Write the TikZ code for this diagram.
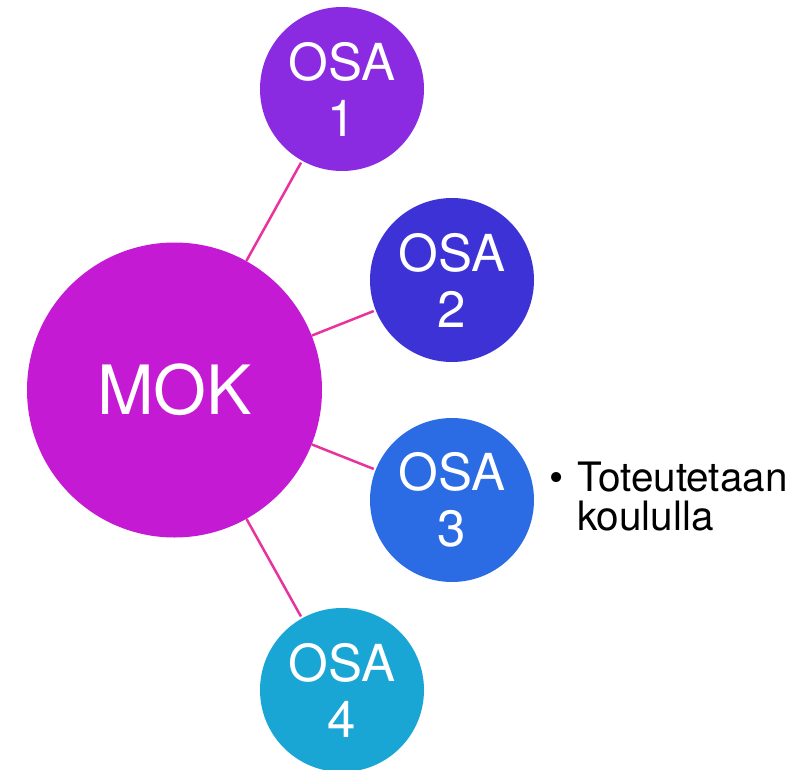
\documentclass[tikz,border=0pt]{standalone}
\usepackage{fontspec}
\setmainfont{TeX Gyre Heros}
\definecolor{cmok}{HTML}{C41AD4}
\definecolor{cosa1}{HTML}{8A2BE2}
\definecolor{cosa2}{HTML}{3D32D6}
\definecolor{cosa3}{HTML}{2B6CE4}
\definecolor{cosa4}{HTML}{19A6D5}
\definecolor{clink}{HTML}{E8339E}
\tikzset{
  bigc/.style={circle, fill=cmok, minimum size=295pt, inner sep=0pt, text=white, font=\fontsize{68}{72}\selectfont},
  smallc/.style={circle, minimum size=164pt, inner sep=0pt, text=white, align=center, font=\fontsize{51}{56}\selectfont},
  link/.style={draw=clink, line width=2.5pt, shorten >=2pt}
}
\begin{document}
\begin{tikzpicture}[x=1pt,y=-1pt]
\useasboundingbox (0,0) rectangle (803,770);
\node[bigc] (mok) at (174.5,390) {MOK};
\node[smallc, fill=cosa1] (o1) at (342,89) {OSA\\1};
\node[smallc, fill=cosa2] (o2) at (452,280) {OSA\\2};
\node[smallc, fill=cosa3] (o3) at (452,500) {OSA\\3};
\node[smallc, fill=cosa4] (o4) at (342,690) {OSA\\4};
\draw[link] (mok) -- (o1);
\draw[link] (mok) -- (o2);
\draw[link] (mok) -- (o3);
\draw[link] (mok) -- (o4);
\node[anchor=north west, align=left, inner sep=0pt, font=\fontsize{40.5}{39}\selectfont] (txt) at (549,462)
  {\makebox[28pt][l]{\textbullet}Toteutetaan\\\hspace*{28pt}koululla};
\end{tikzpicture}
\end{document}
